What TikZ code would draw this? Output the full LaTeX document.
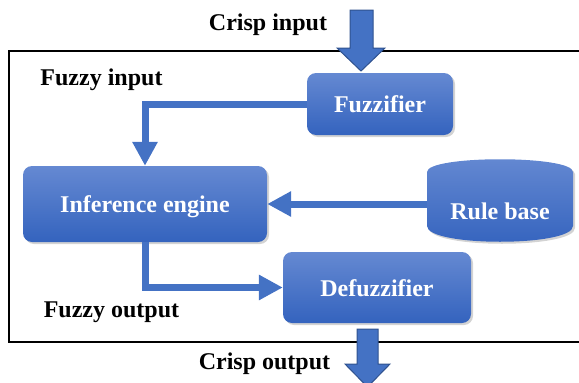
\documentclass[tikz,border=0pt]{standalone}
\usepackage{fontspec}
\setmainfont{Liberation Serif}
\usetikzlibrary{arrows.meta,shadows,calc}
\definecolor{boxtop}{HTML}{6589D2}
\definecolor{boxbot}{HTML}{3463BE}
\definecolor{arrblue}{HTML}{4472C4}
\definecolor{arredge}{HTML}{2F528F}
\begin{document}
\begin{tikzpicture}[x=1pt,y=-1pt,
  box/.style={rounded corners=9pt, top color=boxtop, bottom color=boxbot, draw=none,
    drop shadow={opacity=0.35,shadow xshift=2pt,shadow yshift=-2pt},
    text=white, font=\bfseries\fontsize{24}{28}\selectfont,
    text height=17.5pt, text depth=0pt, inner sep=0pt},
  boxtext/.style={text=white, font=\bfseries\fontsize{24}{28}\selectfont,
    text height=17.5pt, text depth=0pt, inner sep=0pt},
  lbl/.style={font=\bfseries\fontsize{24}{28}\selectfont, anchor=base, inner sep=0pt},
  flow/.style={draw=arrblue, line width=7pt, -{Triangle[width=24pt,length=24pt]}},
  blockarrow/.style={fill=arrblue, draw=arredge, line width=1pt}]
\useasboundingbox (0,0) rectangle (579,383);
\draw[line width=2pt] (9,51) rectangle (590,342);

% boxes
\node[box, minimum width=146pt, minimum height=62pt] (fz) at (380,104) {Fuzzifier};
\node[box, minimum width=244pt, minimum height=76pt] (ie) at (145,204) {Inference engine};
\node[box, minimum width=188pt, minimum height=71pt] (df) at (377,287.5) {Defuzzifier};

% rule base (cylinder-like)
\shade[top color=boxtop, bottom color=boxbot,
  drop shadow={opacity=0.35,shadow xshift=2pt,shadow yshift=-2pt}]
  (427,172) .. controls (427,155) and (573,155) .. (573,172)
  -- (573,226) .. controls (573,247) and (427,247) .. (427,226) -- cycle;
\node[boxtext, minimum width=146pt, minimum height=70pt] (rb) at (500,211) {Rule base};

% connectors
\draw[flow] (fz.west) -| (ie.north);
\draw[flow] (rb.west |- ie.east) -- (ie.east);
\draw[flow] (ie.south) |- (df.west);

% block arrows
\draw[blockarrow] (350,10) -- (373,10) -- (373,48) -- (385,48) -- (361,71) -- (337,48) -- (350,48) -- cycle;
\draw[blockarrow] (357,329) -- (378,329) -- (378,364) -- (390,364) -- (367.5,387) -- (345,364) -- (357,364) -- cycle;

% labels
\node[lbl] (cin) at (268,30) {Crisp input};
\node[lbl] (fin) at (101.5,85) {Fuzzy input};
\node[lbl] (fout) at (111.5,317) {Fuzzy output};
\node[lbl] (cout) at (264.5,369) {Crisp output};
\end{tikzpicture}
\end{document}
